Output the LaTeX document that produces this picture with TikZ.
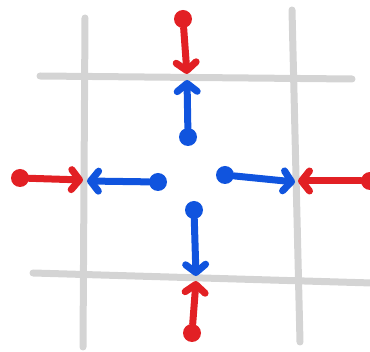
\documentclass[tikz,border=0pt]{standalone}
\usepackage{xcolor}
\usepackage{tikz}
\usetikzlibrary{arrows.meta}
\definecolor{gridgray}{RGB}{212,212,212}
\definecolor{inred}{RGB}{226,32,36}
\definecolor{outblue}{RGB}{16,84,222}

\begin{document}
\begin{tikzpicture}[x=1pt, y=-1pt,
    gridline/.style={gridgray, line width=7pt, line cap=round},
    dot/.style={circle, fill, inner sep=0pt, minimum size=18pt},
    flow/.style={line width=7pt, line cap=round,
      -{Straight Barb[length=8pt, width=20pt, line cap=round, line join=round]}}]
  \useasboundingbox (0,0) rectangle (370,352);

  % Mřížka
  \draw[gridline] (40,76) -- (352,79);
  \draw[gridline] (33,273) -- (372,283);
  \draw[gridline] (85,18) -- (83,347);
  \draw[gridline] (292,10) -- (300,342);

  % Hroty šipek u hran buňky
  \coordinate (bt tip) at (187,80);
  \coordinate (rt tip) at (187,74);
  \coordinate (bb tip) at (196,276);
  \coordinate (rb tip) at (196,281);
  \coordinate (bl tip) at (87,181);
  \coordinate (rl tip) at (83,180);
  \coordinate (br tip) at (295,182);
  \coordinate (rr tip) at (298,181);

  % Odtok (modře)
  \node[dot, outblue] (bt) at (188,137) {};
  \node[dot, outblue] (bb) at (194,210) {};
  \node[dot, outblue] (bl) at (158,182) {};
  \node[dot, outblue] (br) at (225,175) {};
  \draw[flow, outblue] (bt) -- (bt tip);
  \draw[flow, outblue] (bb) -- (bb tip);
  \draw[flow, outblue] (bl) -- (bl tip);
  \draw[flow, outblue] (br) -- (br tip);

  % Přítok (červeně)
  \node[dot, inred] (rt) at (183,19) {};
  \node[dot, inred] (rb) at (192,333) {};
  \node[dot, inred] (rl) at (20,178) {};
  \node[dot, inred] (rr) at (370,181) {};
  \draw[flow, inred] (rt) -- (rt tip);
  \draw[flow, inred] (rb) -- (rb tip);
  \draw[flow, inred] (rl) -- (rl tip);
  \draw[flow, inred] (rr) -- (rr tip);
\end{tikzpicture}
\end{document}
